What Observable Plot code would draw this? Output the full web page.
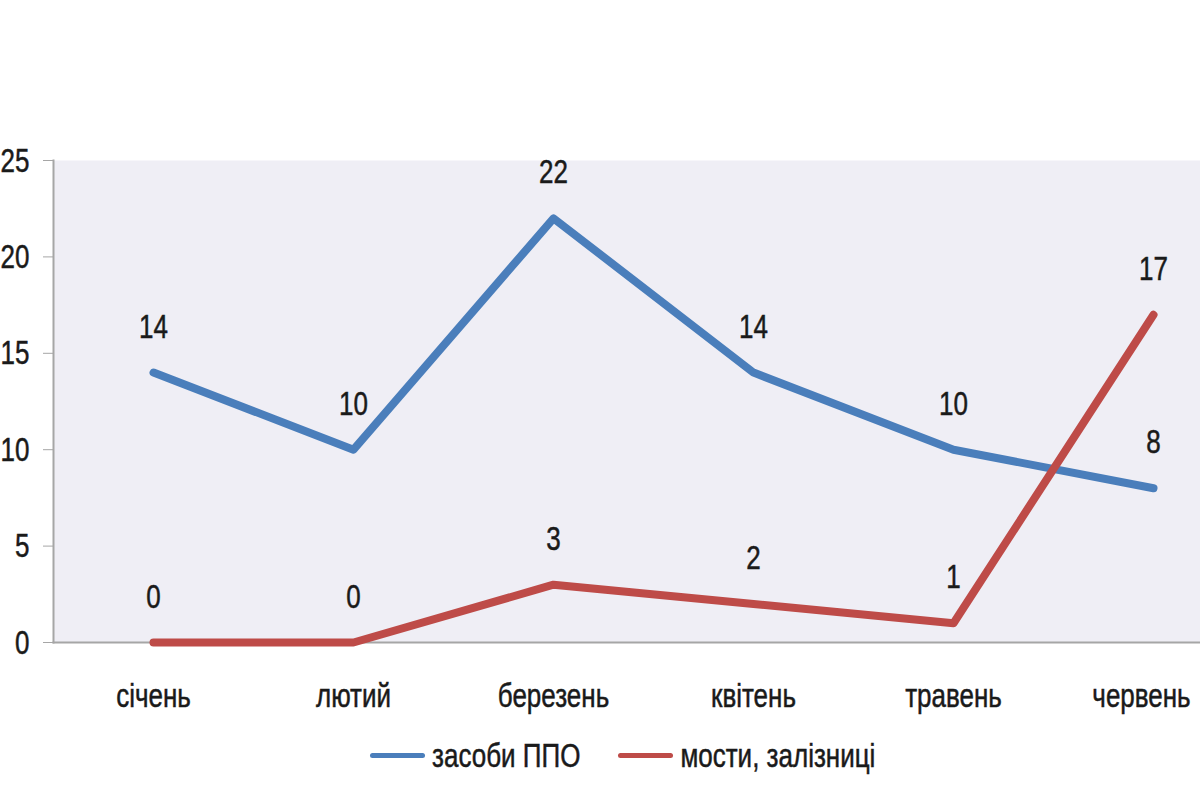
<!DOCTYPE html>
<html>
<head>
<meta charset="utf-8">
<script src="https://cdn.jsdelivr.net/npm/d3@7"></script>
<script src="https://cdn.jsdelivr.net/npm/@observablehq/plot@0.6"></script>
<style>
  html, body { margin: 0; padding: 0; background: #fff; overflow: hidden; width: 1200px; height: 800px; }
  body { font-family: "Liberation Sans", "DejaVu Sans", sans-serif; }
  #legend { display: flex; align-items: center; margin-left: 370px; height: 60px; margin-top: 5px; font-size: 26px; color: #1a1a1a; }
  .sw { display: inline-block; width: 55px; height: 5px; border-radius: 3px; margin-right: 7px; }
  .item { display: flex; align-items: center; margin-right: 38px; }
  .lbl { display: inline-block; transform: scaleY(1.3); transform-origin: center; -webkit-text-stroke: 0.4px #1a1a1a; }
  svg text { stroke: #1a1a1a; stroke-width: 0.4px; }
</style>
</head>
<body>
<div id="chart"></div>
<div id="legend"></div>
<script>
const months = ["січень", "лютий", "березень", "квітень", "травень", "червень"];
const seriesNames = ["засоби ППО", "мости, залізниці"];
const ppo = [14, 10, 22, 14, 10, 8];
const bridges = [0, 0, 3, 2, 1, 17];
const yTicks = [0, 5, 10, 15, 20, 25];
const colors = ["#4a7ebb", "#be4b48"];

const data = [];
months.forEach((m, i) => {
  data.push({month: m, value: ppo[i], series: seriesNames[0]});
  data.push({month: m, value: bridges[i], series: seriesNames[1]});
});

const FONT = "Liberation Sans, DejaVu Sans, sans-serif";
const chart = Plot.plot({
  width: 1200,
  height: 720,
  marginLeft: 53,
  marginRight: 0,
  marginTop: 160,
  marginBottom: 78,
  style: {fontFamily: FONT, fontSize: "26px", color: "#1a1a1a", background: "#fff"},
  x: {type: "point", domain: months, range: [53, 1253], padding: 0.5, label: null},
  y: {domain: [0, 25], range: [642, 160], ticks: yTicks, label: null},
  color: {domain: seriesNames, range: colors},
  marks: [
    Plot.frame({fill: "#efeef5", stroke: null}),
    Plot.frame({anchor: "left", stroke: "#a6a6a6", strokeWidth: 2}),
    Plot.frame({anchor: "bottom", stroke: "#a6a6a6", strokeWidth: 2}),
    Plot.axisY({ticks: yTicks, tickSize: 10, tickPadding: 14, stroke: "#a6a6a6", fontSize: 26, label: null}),
    Plot.axisX(months.slice(0, -1), {tickSize: 0, tickPadding: 43, fontSize: 26, label: null}),
    Plot.axisX(months.slice(-1), {tickSize: 0, tickPadding: 43, fontSize: 26, label: null, dx: -12}),
    Plot.line(data, {x: "month", y: "value", z: "series", stroke: "series", strokeWidth: 8, strokeLinecap: "round", strokeLinejoin: "round"}),
    Plot.text(data, {x: "month", y: "value", text: d => String(d.value), dy: -46, fontSize: 26, fill: "#1a1a1a"})
  ]
});
document.getElementById("chart").appendChild(chart);

// stretch text vertically (reference chart text is tall and narrow)
chart.querySelectorAll("text").forEach(t => {
  const b = t.getBBox();
  const cx = b.x + b.width / 2, cy = b.y + b.height / 2;
  const prev = t.getAttribute("transform") || "";
  t.setAttribute("transform", `${prev} translate(${cx},${cy}) scale(1,1.3) translate(${-cx},${-cy})`.trim());
});

const legend = document.getElementById("legend");
seriesNames.forEach((s, i) => {
  const item = document.createElement("div");
  item.className = "item";
  const sw = document.createElement("span");
  sw.className = "sw";
  sw.style.background = colors[i];
  const t = document.createElement("span");
  t.className = "lbl";
  t.textContent = s;
  item.appendChild(sw);
  item.appendChild(t);
  legend.appendChild(item);
});
</script>
</body>
</html>
